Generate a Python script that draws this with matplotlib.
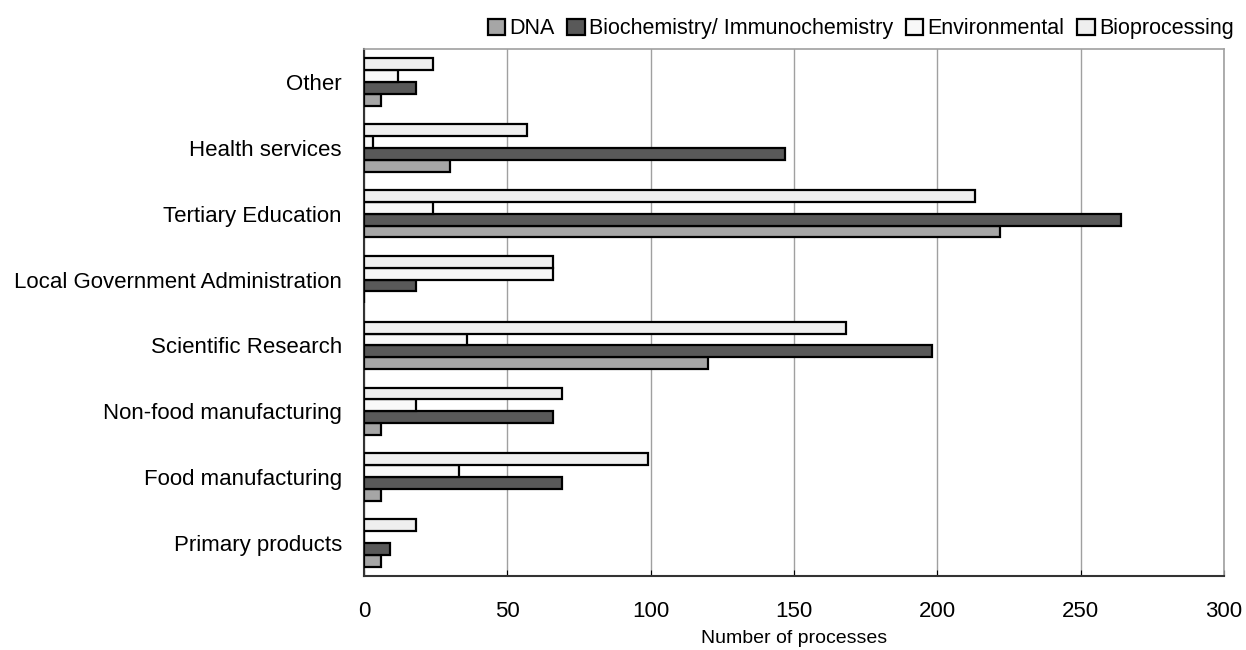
import matplotlib
matplotlib.use("Agg")
import matplotlib.pyplot as plt
import numpy as np

plt.rcParams['font.family'] = ['Liberation Sans', 'DejaVu Sans']

categories = ["Primary products", "Food manufacturing", "Non-food manufacturing",
              "Scientific Research", "Local Government Administration",
              "Tertiary Education", "Health services", "Other"]
series_names = ["DNA", "Biochemistry/ Immunochemistry", "Environmental", "Bioprocessing"]
dna = [6, 6, 6, 120, 0, 222, 30, 6]
biochem = [9, 69, 66, 198, 18, 264, 147, 18]
environmental = [0, 33, 18, 36, 66, 24, 3, 12]
bioprocessing = [18, 99, 69, 168, 66, 213, 57, 24]
xticks = [0, 50, 100, 150, 200, 250, 300]

colors = ["#a6a6a6", "#595959", "#f8f8f8", "#efefef"]
series = [dna, biochem, environmental, bioprocessing]

fig = plt.figure(figsize=(12.46, 6.5), dpi=100)
ax = fig.add_axes([364/1246, 1-576/650, 860/1246, 527/650])

y = np.arange(len(categories))
h = 0.18
offsets = [-1.5, -0.5, 0.5, 1.5]
for s, name, c, o in zip(series, series_names, colors, offsets):
    ax.barh(y + o*h, s, height=h, color=c, edgecolor="black", linewidth=1.6,
            label=name, zorder=3)

ax.set_xlim(0, 300)
ax.set_ylim(-0.5, len(categories)-0.5)
ax.set_xticks(xticks)
ax.set_xticklabels([str(t) for t in xticks], fontsize=16)
ax.set_yticks(y)
ax.set_yticklabels(categories, fontsize=16)
ax.tick_params(axis='y', length=0, pad=16)
ax.tick_params(axis='x', direction='in', length=4, pad=18, color='black')
ax.xaxis.grid(True, color="#a0a0a0", linewidth=1, zorder=0)
ax.set_axisbelow(True)
for sp in ['top', 'right']:
    ax.spines[sp].set_color('#a0a0a0')
    ax.spines[sp].set_linewidth(1.2)
for sp in ['left', 'bottom']:
    ax.spines[sp].set_color('#333333')
    ax.spines[sp].set_linewidth(1.5)
ax.set_xlabel("Number of processes", fontsize=14, labelpad=6)

leg = ax.legend(loc='lower right', bbox_to_anchor=(1.0225, 1.0), ncol=4, frameon=False,
                fontsize=15.5, handlelength=0.8, handleheight=0.8, handletextpad=0.2,
                columnspacing=0.6, borderaxespad=0.05)

fig.savefig("out.png", dpi=100, facecolor="white")
